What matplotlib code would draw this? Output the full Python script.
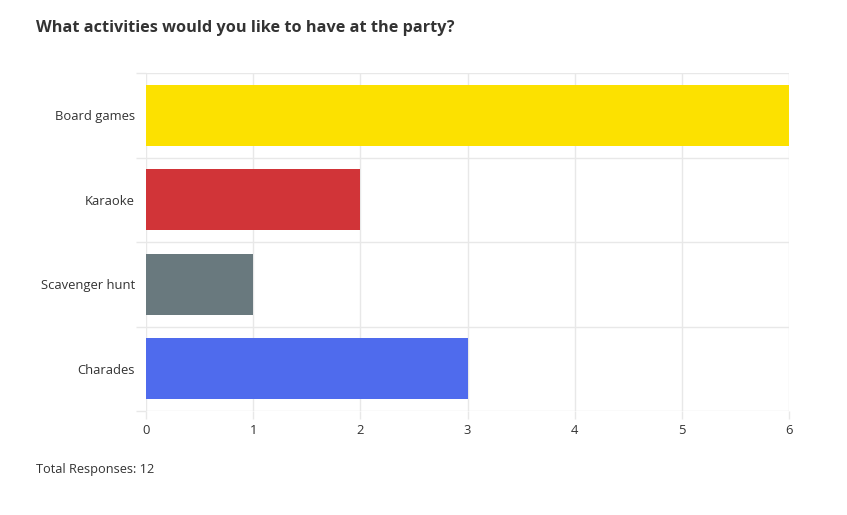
import matplotlib
matplotlib.use("Agg")
import matplotlib.pyplot as plt
import numpy as np

categories = ["Board games", "Karaoke", "Scavenger hunt", "Charades"]
values = [6, 2, 1, 3]
colors = ["#FCE100", "#D13438", "#69797E", "#4F6BED"]
x_ticks = [0, 1, 2, 3, 4, 5, 6]
title = "What activities would you like to have at the party?"
footer = "Total Responses: 12"

plt.rcParams['font.family'] = ['Open Sans', 'DejaVu Sans']
grid_c = "#E8E8E8"
text_c = "#333333"

fig = plt.figure(figsize=(8.47, 5.15), dpi=100)
ax = fig.add_axes([146/847, 1-411/515, (789-146)/847, (411-73)/515])

pos = np.arange(len(categories))
ax.barh(pos, values, height=0.72, color=colors, zorder=3)
ax.set_ylim(len(categories)-0.5, -0.5)
ax.set_xlim(0, 6)

ax.set_yticks(pos)
ax.set_yticklabels(categories, fontsize=9.4, color=text_c)
ax.set_yticks(np.arange(len(categories)+1)-0.5, minor=True)
ax.tick_params(axis='y', which='major', length=0, pad=8)
ax.tick_params(axis='y', which='minor', length=7, color=grid_c, width=1)
ax.set_xticks(x_ticks)
ax.set_xticklabels([str(t) for t in x_ticks], fontsize=9.4, color=text_c)
ax.tick_params(axis='x', which='major', length=6, color=grid_c, width=1, pad=3)

ax.grid(True, axis='x', which='major', color=grid_c, linewidth=1, zorder=0)
ax.grid(True, axis='y', which='minor', color=grid_c, linewidth=1, zorder=0)
for s in ax.spines.values():
    s.set_visible(False)

fig.text(36/847, 1-28.5/515, title, fontsize=11.7, fontweight='bold', color=text_c, va='center', ha='left')
fig.text(36/847, 1-469.5/515, footer, fontsize=9.2, color=text_c, va='center', ha='left')

fig.savefig("out.png", dpi=100)
